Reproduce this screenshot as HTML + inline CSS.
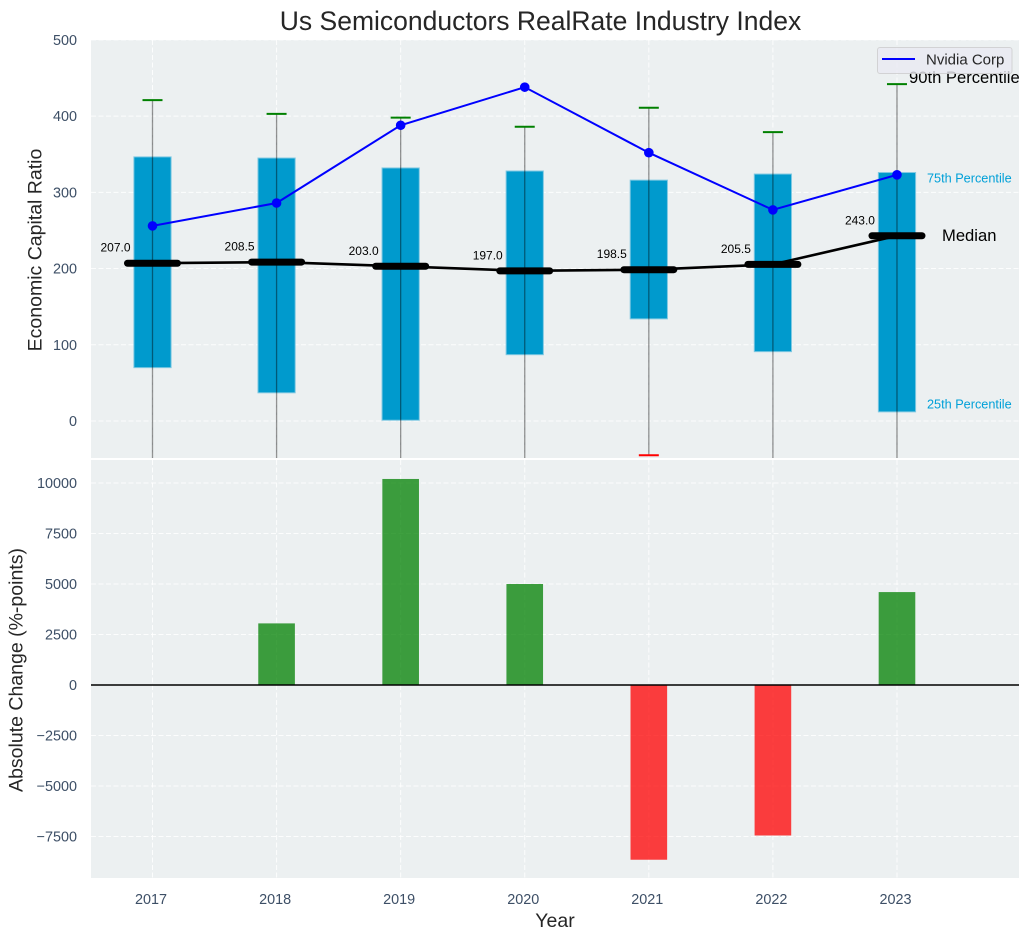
<!DOCTYPE html>
<html>
<head>
<meta charset="utf-8">
<title>Us Semiconductors RealRate Industry Index</title>
<style>
html,body{margin:0;padding:0;background:#fff;}
svg{display:block;font-family:"Liberation Sans",Arial,sans-serif;}
</style>
</head>
<body>
<svg id="chart" width="1030" height="940" viewBox="0 0 1030 940" xmlns="http://www.w3.org/2000/svg">
  <defs>
    <clipPath id="clip-top"><rect x="91" y="40" width="928" height="418"/></clipPath>
    <clipPath id="clip-bottom"><rect x="91" y="460" width="928" height="418"/></clipPath>
  </defs>
  <rect x="91" y="40" width="928" height="418" fill="#ecf0f1"/>
  <rect x="91" y="460" width="928" height="418" fill="#ecf0f1"/>
  <g id="grid"></g>
  <g id="top-marks" clip-path="url(#clip-top)"></g>
  <g id="bottom-marks" clip-path="url(#clip-bottom)"></g>
  <g id="ticks"></g>
  <text x="540.5" y="30" text-anchor="middle" font-size="26.5" fill="#262626">Us Semiconductors RealRate Industry Index</text>
  <text transform="translate(41.5,250) rotate(-90)" text-anchor="middle" font-size="19.5" fill="#262626">Economic Capital Ratio</text>
  <text transform="translate(22.5,670) rotate(-90)" text-anchor="middle" font-size="19.5" fill="#262626">Absolute Change (%-points)</text>
  <text x="555" y="927" text-anchor="middle" font-size="19.5" fill="#262626">Year</text>
  <g clip-path="url(#clip-top)">
    <text x="909" y="83" font-size="16.6" fill="#000">90th Percentile</text>
  </g>
  <text x="927" y="182.5" font-size="12.7" fill="#00a0d8">75th Percentile</text>
  <text x="942" y="241" font-size="16.6" fill="#000">Median</text>
  <text x="927" y="408.5" font-size="12.7" fill="#00a0d8">25th Percentile</text>
  <g>
    <rect x="877.5" y="47.5" width="134.5" height="26" rx="2.5" fill="#eaeaf2" fill-opacity="0.8" stroke="#cccccc" stroke-opacity="0.8" stroke-width="1"/>
    <line x1="882" y1="59" x2="915" y2="59" stroke="#0000ff" stroke-width="2"/>
    <text x="926" y="64.5" font-size="15" fill="#262626">Nvidia Corp</text>
  </g>
</svg>
<script>
var years = [2017, 2018, 2019, 2020, 2021, 2022, 2023];
var p90 = [421, 403, 398, 386, 411, 379, 442];
var p75 = [346.5, 345, 332, 328, 316, 324, 326];
var medians = [207.0, 208.5, 203.0, 197.0, 198.5, 205.5, 243.0];
var p25 = [70, 37, 1, 87, 134, 91, 12];
var p10 = [-120, -90, -150, -110, -45, -100, -130];
var nvidia = [256, 286, 388, 438, 352, 277, 323];
var changes = [0, 3050, 10200, 5000, -8650, -7450, 4600];
var topTicks = [0, 100, 200, 300, 400, 500];
var bottomTicks = [-7500, -5000, -2500, 0, 2500, 5000, 7500, 10000];

var NS = 'http://www.w3.org/2000/svg';
function xScale(v) { return 152.5 + (v - 2017) * 124.08; }
function yTop(v) { return 421 - v * 0.7622; }
function yBottom(v) { return 685 - v * 0.0202; }
var BAR_W = 0.3 * 124.08;

function mk(tag, attrs, parent) {
  var el = document.createElementNS(NS, tag);
  for (var k in attrs) { el.setAttribute(k, attrs[k]); }
  parent.appendChild(el);
  return el;
}

var grid = document.getElementById('grid');
var top_ = document.getElementById('top-marks');
var bot = document.getElementById('bottom-marks');
var ticks = document.getElementById('ticks');
var el;

topTicks.forEach(function (t) {
  el = mk('line', {x1: 91, x2: 1019, y1: yTop(t), y2: yTop(t), stroke: '#fff', 'stroke-width': 1, 'stroke-dasharray': '5 2.5', 'stroke-opacity': 0.85}, grid);
  
  
  el = mk('text', {x: 77, y: yTop(t) + 5, 'text-anchor': 'end', 'font-size': 14.4, fill: '#3d4f66'}, ticks);
  el.textContent = t;
  
  
});

bottomTicks.forEach(function (t) {
  el = mk('line', {x1: 91, x2: 1019, y1: yBottom(t), y2: yBottom(t), stroke: '#fff', 'stroke-width': 1, 'stroke-dasharray': '5 2.5', 'stroke-opacity': 0.85}, grid);
  
  
  el = mk('text', {x: 77, y: yBottom(t) + 5, 'text-anchor': 'end', 'font-size': 14.4, fill: '#3d4f66'}, ticks);
  el.textContent = String(t).replace('-', '\u2212');
  
  
});

years.forEach(function (y) {
  var x = xScale(y);
  el = mk('line', {x1: x, x2: x, y1: 40, y2: 458, stroke: '#fff', 'stroke-width': 1, 'stroke-dasharray': '5 2.5', 'stroke-opacity': 0.85}, grid);
  
  
  el = mk('line', {x1: x, x2: x, y1: 460, y2: 878, stroke: '#fff', 'stroke-width': 1, 'stroke-dasharray': '5 2.5', 'stroke-opacity': 0.85}, grid);
  
  
  el = mk('text', {x: x - 1.5, y: 904, 'text-anchor': 'middle', 'font-size': 14.4, fill: '#3d4f66'}, ticks);
  el.textContent = y;
  
  
});

/* percentile boxes */
years.forEach(function (y, i) {
  var yt = yTop(p75[i]), yb = yTop(p25[i]);
  el = mk('rect', {x: xScale(y) - BAR_W / 2, y: yt, width: BAR_W, height: yb - yt, fill: '#009acd', stroke: '#7fc8e2', 'stroke-width': 1}, top_);
  
  
});

/* whiskers and caps */
years.forEach(function (y, i) {
  var x = xScale(y);
  el = mk('line', {x1: x, x2: x, y1: yTop(p90[i]), y2: yTop(p10[i]), stroke: '#000', 'stroke-opacity': 0.42, 'stroke-width': 1.3}, top_);
  
  
  el = mk('line', {x1: x - 10, x2: x + 10, y1: yTop(p90[i]), y2: yTop(p90[i]), stroke: '#008000', 'stroke-width': 2}, top_);
  
  
  el = mk('line', {x1: x - 10, x2: x + 10, y1: yTop(p10[i]), y2: yTop(p10[i]), stroke: '#ff0000', 'stroke-width': 2}, top_);
  
  
});

/* median line */
var medianPts = years.map(function (y, i) { return xScale(y) + ',' + yTop(medians[i]); }).join(' ');
el = mk('polyline', {points: medianPts, fill: 'none', stroke: '#000', 'stroke-width': 2.6}, top_);



years.forEach(function (y, i) {
  var x = xScale(y), v = yTop(medians[i]);
  el = mk('line', {x1: x - 25, x2: x + 25, y1: v, y2: v, stroke: '#000', 'stroke-width': 7, 'stroke-linecap': 'round'}, top_);
  
  
  el = mk('text', {x: x - 22, y: v - 11.5, 'text-anchor': 'end', 'font-size': 12, fill: '#000'}, top_);
  el.textContent = medians[i].toFixed(1);
  
  
});

/* Nvidia series */
var nvPts = years.map(function (y, i) { return xScale(y) + ',' + yTop(nvidia[i]); }).join(' ');
el = mk('polyline', {points: nvPts, fill: 'none', stroke: '#0000ff', 'stroke-width': 2}, top_);


years.forEach(function (y, i) {
  el = mk('circle', {cx: xScale(y), cy: yTop(nvidia[i]), r: 4.8, fill: '#0000ff'}, top_);
  
  
});

/* change bars */
years.forEach(function (y, i) {
  var v = changes[i];
  var y0 = yBottom(Math.max(v, 0)), y1 = yBottom(Math.min(v, 0));
  el = mk('rect', {x: xScale(y) - BAR_W / 2 + 0.3, y: y0, width: BAR_W - 0.6, height: y1 - y0, fill: v >= 0 ? '#008000' : '#ff0000', 'fill-opacity': 0.75}, bot);
  
  
});
el = mk('line', {x1: 91, x2: 1019, y1: yBottom(0), y2: yBottom(0), stroke: '#000', 'stroke-width': 1.4}, bot);


</script>
</body>
</html>
